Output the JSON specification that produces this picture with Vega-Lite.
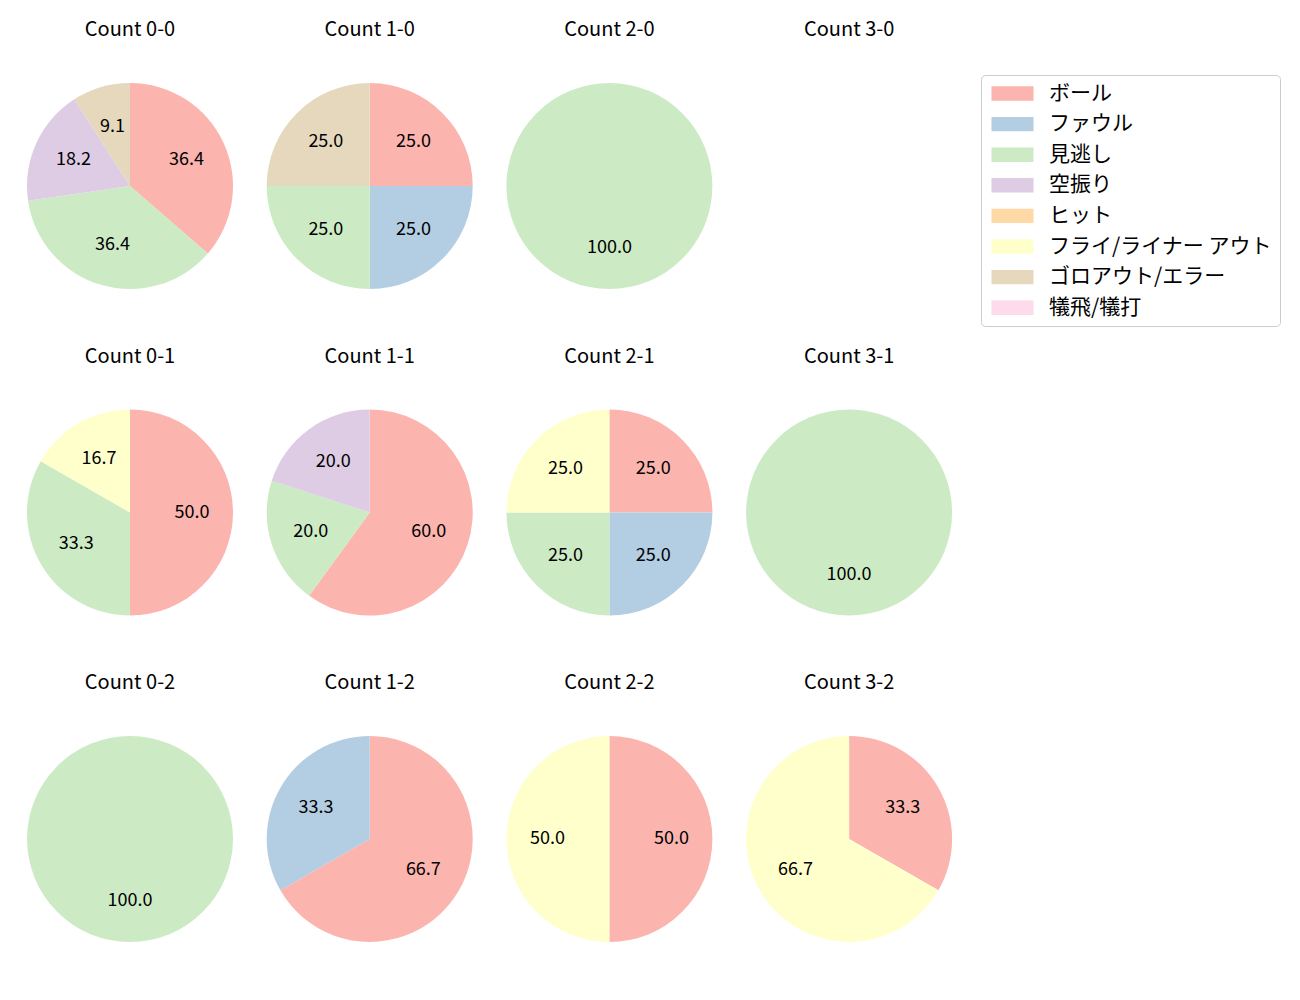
{
  "$schema": "https://vega.github.io/schema/vega-lite/v6.json",
  "padding": {"left": 27, "top": 20, "right": 0, "bottom": 0},
  "autosize": {"type": "pad"},
  "background": "white",
  "config": {"view": {"stroke": null}, "font": "Noto Sans CJK JP"},
  "data": {"values": [
    {"count": "Count 0-0", "result": "ボール", "idx": 0, "pct": 36.4},
    {"count": "Count 0-0", "result": "見逃し", "idx": 2, "pct": 36.4},
    {"count": "Count 0-0", "result": "空振り", "idx": 3, "pct": 18.2},
    {"count": "Count 0-0", "result": "ゴロアウト/エラー", "idx": 6, "pct": 9.1},
    {"count": "Count 1-0", "result": "ボール", "idx": 0, "pct": 25.0},
    {"count": "Count 1-0", "result": "ファウル", "idx": 1, "pct": 25.0},
    {"count": "Count 1-0", "result": "見逃し", "idx": 2, "pct": 25.0},
    {"count": "Count 1-0", "result": "ゴロアウト/エラー", "idx": 6, "pct": 25.0},
    {"count": "Count 2-0", "result": "見逃し", "idx": 2, "pct": 100.0},
    {"count": "Count 3-0", "result": "ボール", "idx": 0, "pct": 0},
    {"count": "Count 0-1", "result": "ボール", "idx": 0, "pct": 50.0},
    {"count": "Count 0-1", "result": "見逃し", "idx": 2, "pct": 33.3},
    {"count": "Count 0-1", "result": "フライ/ライナー アウト", "idx": 5, "pct": 16.7},
    {"count": "Count 1-1", "result": "ボール", "idx": 0, "pct": 60.0},
    {"count": "Count 1-1", "result": "見逃し", "idx": 2, "pct": 20.0},
    {"count": "Count 1-1", "result": "空振り", "idx": 3, "pct": 20.0},
    {"count": "Count 2-1", "result": "ボール", "idx": 0, "pct": 25.0},
    {"count": "Count 2-1", "result": "ファウル", "idx": 1, "pct": 25.0},
    {"count": "Count 2-1", "result": "見逃し", "idx": 2, "pct": 25.0},
    {"count": "Count 2-1", "result": "フライ/ライナー アウト", "idx": 5, "pct": 25.0},
    {"count": "Count 3-1", "result": "見逃し", "idx": 2, "pct": 100.0},
    {"count": "Count 0-2", "result": "見逃し", "idx": 2, "pct": 100.0},
    {"count": "Count 1-2", "result": "ボール", "idx": 0, "pct": 66.7},
    {"count": "Count 1-2", "result": "ファウル", "idx": 1, "pct": 33.3},
    {"count": "Count 2-2", "result": "ボール", "idx": 0, "pct": 50.0},
    {"count": "Count 2-2", "result": "フライ/ライナー アウト", "idx": 5, "pct": 50.0},
    {"count": "Count 3-2", "result": "ボール", "idx": 0, "pct": 33.3},
    {"count": "Count 3-2", "result": "フライ/ライナー アウト", "idx": 5, "pct": 66.7}
  ]},
  "facet": {
    "field": "count",
    "type": "nominal",
    "sort": ["Count 0-0", "Count 1-0", "Count 2-0", "Count 3-0", "Count 0-1", "Count 1-1", "Count 2-1", "Count 3-1", "Count 0-2", "Count 1-2", "Count 2-2", "Count 3-2"],
    "header": {"title": null, "labelFontSize": 20, "labelPadding": 43, "labelColor": "black", "labelFont": "Noto Sans CJK JP"}
  },
  "columns": 4,
  "spacing": {"column": 33.7, "row": 57.5},
  "spec": {
    "width": 206,
    "height": 206,
    "encoding": {
      "theta": {"field": "pct", "type": "quantitative", "stack": true},
      "order": {"field": "idx", "type": "quantitative"}
    },
    "layer": [
      {
        "mark": {"type": "arc", "outerRadius": 103},
        "encoding": {
          "color": {
            "field": "result",
            "type": "nominal",
            "scale": {
              "domain": ["ボール", "ファウル", "見逃し", "空振り", "ヒット", "フライ/ライナー アウト", "ゴロアウト/エラー", "犠飛/犠打"],
              "range": ["#fbb4ae", "#b3cde3", "#ccebc5", "#decbe4", "#fed9a6", "#ffffcc", "#e5d8bd", "#fddaec"]
            },
            "legend": {
              "title": null,
              "orient": "none",
              "legendX": 954,
              "legendY": -8,
              "symbolType": "M-1,-0.9H4.25V0.9H-1Z",
              "symbolSize": 256,
              "symbolStrokeWidth": 0,
              "labelFontSize": 21,
              "labelFont": "Noto Sans CJK JP",
              "labelColor": "black",
              "labelOffset": 39,
              "labelLimit": 400,
              "rowPadding": 8.6,
              "titlePadding": 0,
              "padding": 8,
              "strokeColor": "#cccccc",
              "cornerRadius": 4,
              "fillColor": "white"
            }
          }
        }
      },
      {
        "transform": [{"filter": "datum.pct > 0"}],
        "mark": {"type": "text", "radius": 62, "fontSize": 18, "color": "black", "font": "Noto Sans CJK JP"},
        "encoding": {
          "text": {"field": "pct", "type": "quantitative", "format": ".1f"}
        }
      }
    ]
  }
}
